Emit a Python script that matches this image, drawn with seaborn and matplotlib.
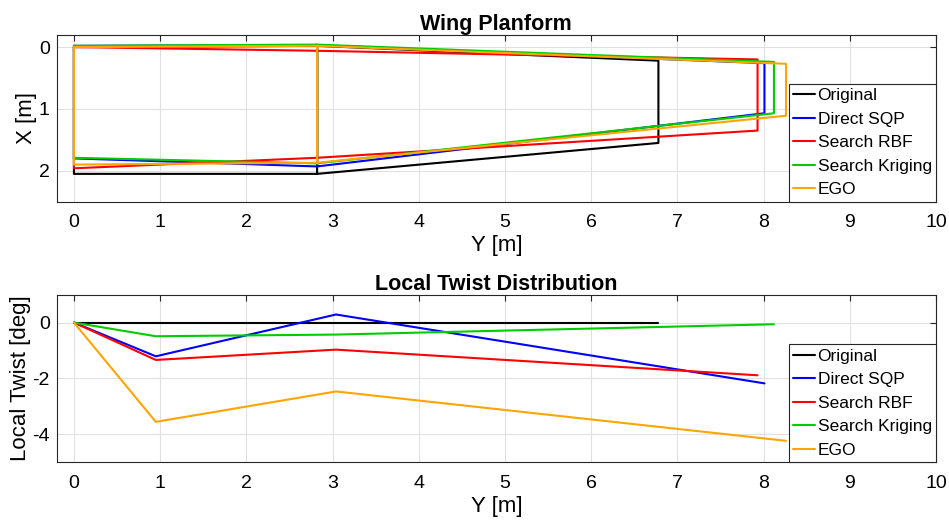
import numpy as np
import pandas as pd
import matplotlib
matplotlib.use("Agg")
import matplotlib.pyplot as plt
import seaborn as sns

# ---------------- data ----------------
names = ["Original", "Direct SQP", "Search RBF", "Search Kriging", "EGO"]
colors = ["#000000", "#0000FF", "#FF0000", "#00CC00", "#FFA500"]

# planform: spanwise stations (root, kink, tip) and chordwise LE / TE positions
kink_y = [2.82, 2.82, 2.82, 2.82, 2.82]
tip_y = [6.78, 8.01, 7.93, 8.12, 8.26]
le_root = [0.00, -0.02, 0.00, -0.02, 0.00]
le_kink = [-0.02, -0.03, 0.06, -0.04, -0.02]
le_tip = [0.22, 0.26, 0.20, 0.24, 0.27]
te_root = [2.05, 1.80, 1.96, 1.79, 1.90]
te_kink = [2.05, 1.93, 1.79, 1.88, 1.87]
te_tip = [1.55, 1.07, 1.35, 1.07, 1.11]

# twist distribution: stations (0, 0.95, 3.04, tip) and twist [deg]
twist_st = [0.0, 0.95, 3.04]
twist_orig = [0.0, 0.0, 0.0, 0.0]
twist_sqp = [0.0, -1.21, 0.29, -2.18]
twist_rbf = [0.0, -1.34, -0.97, -1.89]
twist_krig = [0.0, -0.49, -0.43, -0.06]
twist_ego = [0.0, -3.56, -2.47, -4.24]
twists = [twist_orig, twist_sqp, twist_rbf, twist_krig, twist_ego]

# ---------------- build tables ----------------
rows = []
for i, n in enumerate(names):
    ys = [0, kink_y[i], kink_y[i], kink_y[i], tip_y[i], tip_y[i], kink_y[i], 0, 0]
    xs = [le_root[i], le_kink[i], te_kink[i], le_kink[i], le_tip[i], te_tip[i],
          te_kink[i], te_root[i], le_root[i]]
    for a, b in zip(ys, xs):
        rows.append({"Y": a, "X": b, "name": n})
plan = pd.DataFrame(rows)

rows = []
for i, n in enumerate(names):
    st = twist_st + [tip_y[i]]
    for a, b in zip(st, twists[i]):
        rows.append({"Y": a, "T": b, "name": n})
tw = pd.DataFrame(rows)

# ---------------- style ----------------
sns.set_theme(style="white")
plt.rcParams["font.family"] = ["Liberation Sans", "DejaVu Sans"]
plt.rcParams["xtick.direction"] = "in"
plt.rcParams["ytick.direction"] = "in"
plt.rcParams["axes.unicode_minus"] = False
plt.rcParams["text.color"] = "black"
plt.rcParams["axes.labelcolor"] = "black"
plt.rcParams["xtick.labelcolor"] = "black"
plt.rcParams["ytick.labelcolor"] = "black"

W, H = 949, 521
fig = plt.figure(figsize=(W / 100, H / 100), dpi=100)
L, R = 56.7, 936
ax1 = fig.add_axes([L / W, 1 - 201.7 / H, (R - L) / W, (201.7 - 34.7) / H])
ax2 = fig.add_axes([L / W, 1 - 462 / H, (R - L) / W, (462 - 294.7) / H])

pal = dict(zip(names, colors))
sns.lineplot(data=plan, x="Y", y="X", hue="name", palette=pal, sort=False,
             estimator=None, ax=ax1, linewidth=1.5, hue_order=names)
sns.lineplot(data=tw, x="Y", y="T", hue="name", palette=pal, sort=False,
             estimator=None, ax=ax2, linewidth=1.5, hue_order=names)

ax1.set_ylim(2.5, -0.2)
ax1.set_yticks([0, 1, 2])
ax2.set_ylim(-5, 1)
ax2.set_yticks([-4, -2, 0])

for ax, title, ylab in [(ax1, "Wing Planform", "X [m]"),
                        (ax2, "Local Twist Distribution", "Local Twist [deg]")]:
    ax.set_xlim(-0.2, 10)
    ax.set_xticks(range(0, 11))
    ax.set_title(title, fontsize=15.5, fontweight="bold", pad=3.5, color="black")
    ax.set_xlabel("Y [m]", fontsize=16, labelpad=3, color="black")
    ax.set_ylabel(ylab, fontsize=16, labelpad=1, color="black")
    ax.grid(True, color="#e0e0e0", linewidth=0.8)
    ax.tick_params(axis="both", labelsize=14, length=4, width=0.8,
                   color="#262626", labelcolor="black", top=True, right=True)
    ax.tick_params(axis="x", pad=9)
    ax.tick_params(axis="y", pad=5)
    for s in ax.spines.values():
        s.set_color("#262626")
        s.set_linewidth(0.8)
    leg = ax.legend(loc="lower right", fontsize=12.5, frameon=True, fancybox=False,
                    edgecolor="#262626", framealpha=1, borderaxespad=0,
                    handlelength=1.25, handletextpad=0.15, labelspacing=0.48,
                    borderpad=0.25)
    for t in leg.get_texts():
        t.set_color("black")
    leg.get_frame().set_linewidth(0.8)

fig.savefig("out.png", dpi=100)
